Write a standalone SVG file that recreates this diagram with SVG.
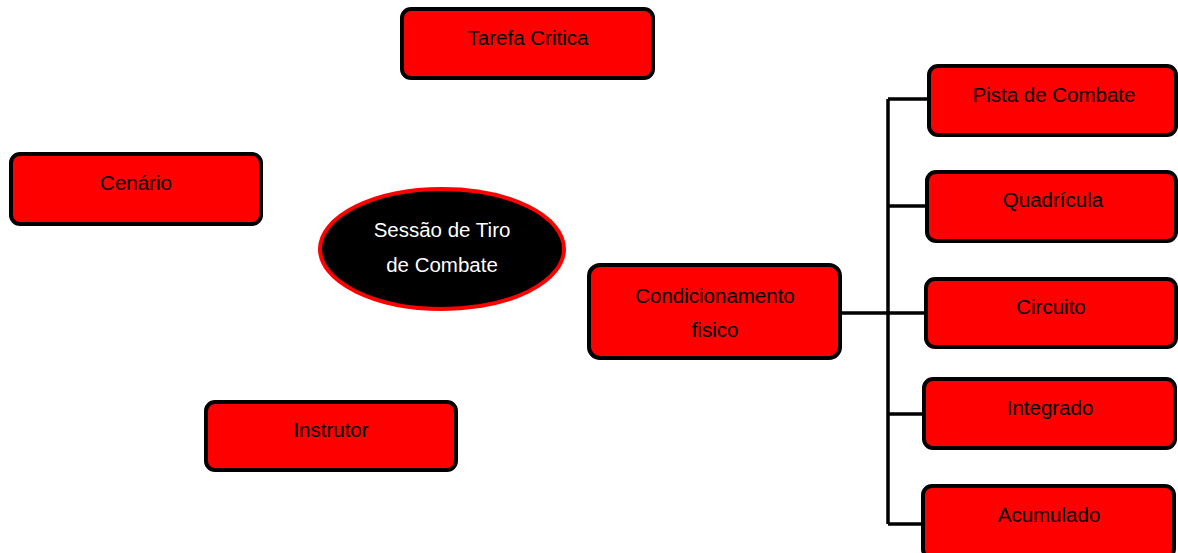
<svg xmlns="http://www.w3.org/2000/svg" width="1178" height="553" viewBox="0 0 1178 553">
<style>
.box{fill:#ff0000;stroke:#000;stroke-width:4}
.t{font-family:"Liberation Sans",Arial,sans-serif;font-size:20.5px;fill:#000;text-anchor:middle}
.w{fill:#fff}
.c{fill:none;stroke:#000;stroke-width:3.5}
</style>
<rect width="1178" height="553" fill="#fff"/>
<g id="connectors">
<path class="c" d="M840,313 H888 M888,99 V524 M888,99 H929 M888,206 H927 M888,313 H926 M888,414 H924 M888,524 H923"/>
</g>
<g id="tarefa"><rect class="box" x="402" y="9" width="251" height="69" rx="9"/><text class="t" x="528" y="45">Tarefa Critica</text></g>
<g id="cenario"><rect class="box" x="11" y="154" width="250" height="70" rx="9"/><text class="t" x="136" y="190">Cenário</text></g>
<g id="sessao"><ellipse cx="442" cy="249" rx="122" ry="60" fill="#000" stroke="#ff0000" stroke-width="4"/><text class="t w" x="442" y="237">Sessão de Tiro</text><text class="t w" x="442" y="272">de Combate</text></g>
<g id="instrutor"><rect class="box" x="206" y="402" width="250" height="68" rx="9"/><text class="t" x="331" y="437">Instrutor</text></g>
<g id="condicionamento"><rect class="box" x="589" y="265" width="251" height="93" rx="11"/><text class="t" x="715" y="303">Condicionamento</text><text class="t" x="715" y="337">fisico</text></g>
<g id="pista"><rect class="box" x="929" y="66" width="247" height="69" rx="9"/><text class="t" x="1054" y="102">Pista de Combate</text></g>
<g id="quadricula"><rect class="box" x="927" y="172" width="249" height="69" rx="9"/><text class="t" x="1053" y="207">Quadrícula</text></g>
<g id="circuito"><rect class="box" x="926" y="279" width="250" height="68" rx="9"/><text class="t" x="1051" y="314">Circuito</text></g>
<g id="integrado"><rect class="box" x="924" y="379" width="251" height="69" rx="9"/><text class="t" x="1050" y="415">Integrado</text></g>
<g id="acumulado"><rect class="box" x="923" y="486" width="251" height="72" rx="9"/><text class="t" x="1049" y="522">Acumulado</text></g>
</svg>
